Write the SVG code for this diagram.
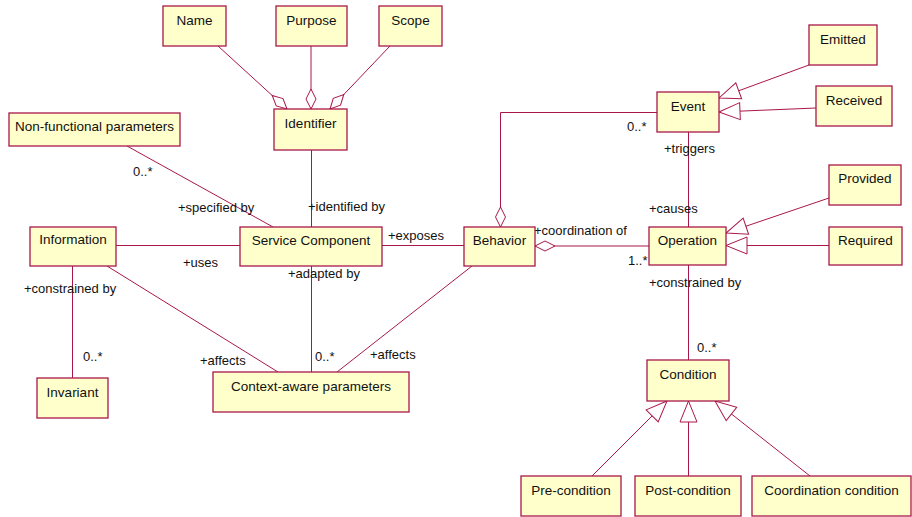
<svg xmlns="http://www.w3.org/2000/svg" width="912" height="517" viewBox="0 0 912 517">
  <style>
    .box { fill: #ffffcc; stroke: #a8174a; stroke-width: 1.3; }
    .name { font-family: "Liberation Sans", Arial, sans-serif; font-size: 13.5px; fill: #111; text-anchor: middle; }
    .lbl { font-family: "Liberation Sans", Arial, sans-serif; font-size: 13px; fill: #111; }
    .edge { fill: none; stroke: #a8174a; stroke-width: 1; }
    .gen { marker-end: url(#triangle); }
    .agg { marker-end: url(#diamond); }
  </style>
  <defs>
    <!-- hollow triangle for generalization -->
    <marker id="triangle" markerUnits="userSpaceOnUse" markerWidth="26" markerHeight="22" refX="22" refY="9.5" orient="auto" overflow="visible">
      <path d="M22,9.5 L1,1 L1,18 Z" fill="#fff" stroke="#a8174a" stroke-width="1"/>
    </marker>
    <!-- hollow diamond for aggregation -->
    <marker id="diamond" markerUnits="userSpaceOnUse" markerWidth="24" markerHeight="14" refX="21" refY="6" orient="auto" overflow="visible">
      <path d="M1,6 L11,1 L21,6 L11,11 Z" fill="#fff" stroke="#a8174a" stroke-width="1"/>
    </marker>
  </defs>

  <rect width="912" height="517" fill="#fff"/>

  <g id="connectors">
    <line class="edge agg" x1="218" y1="46" x2="287" y2="109"/>
    <line class="edge agg" x1="311" y1="46" x2="311" y2="109"/>
    <line class="edge agg" x1="390" y1="46" x2="330" y2="109"/>
    <line class="edge" x1="311.5" y1="150" x2="311.5" y2="227"/>
    <line class="edge" x1="127" y1="146" x2="273" y2="227"/>
    <line class="edge" x1="116" y1="245.5" x2="240" y2="245.5"/>
    <line class="edge" x1="72.5" y1="266" x2="72.5" y2="378"/>
    <line class="edge" x1="107" y1="266" x2="278" y2="372"/>
    <line class="edge" x1="311.5" y1="266" x2="311.5" y2="372"/>
    <line class="edge" x1="472" y1="266" x2="337" y2="372"/>
    <line class="edge" x1="382" y1="245.5" x2="464" y2="245.5"/>
    <path class="edge agg" d="M657,112.5 H500.5 V227"/>
    <line class="edge agg" x1="649" y1="246" x2="535" y2="246"/>
    <line class="edge" x1="688.5" y1="132" x2="688.5" y2="227"/>
    <line class="edge" x1="688.5" y1="265" x2="688.5" y2="360"/>
    <line class="edge gen" x1="809" y1="65" x2="719" y2="98"/>
    <line class="edge gen" x1="816" y1="108" x2="719" y2="112"/>
    <line class="edge gen" x1="829" y1="198" x2="726" y2="233"/>
    <line class="edge gen" x1="829" y1="245.5" x2="726" y2="245.5"/>
    <line class="edge gen" x1="592" y1="476" x2="667" y2="401"/>
    <line class="edge gen" x1="688.5" y1="476" x2="688.5" y2="401"/>
    <line class="edge gen" x1="810" y1="476" x2="715" y2="401"/>

    <!-- role names and multiplicities -->
    <text class="lbl" x="133" y="176">0..*</text>
    <text class="lbl" x="178" y="212">+specified by</text>
    <text class="lbl" x="308" y="211">+identified by</text>
    <text class="lbl" x="183" y="267">+uses</text>
    <text class="lbl" x="24" y="293">+constrained by</text>
    <text class="lbl" x="288" y="278">+adapted by</text>
    <text class="lbl" x="83" y="361">0..*</text>
    <text class="lbl" x="200" y="365">+affects</text>
    <text class="lbl" x="315" y="361">0..*</text>
    <text class="lbl" x="370" y="359">+affects</text>
    <text class="lbl" x="388" y="240">+exposes</text>
    <text class="lbl" x="534" y="235">+coordination of</text>
    <text class="lbl" x="628" y="265">1..*</text>
    <text class="lbl" x="627" y="131">0..*</text>
    <text class="lbl" x="664" y="153">+triggers</text>
    <text class="lbl" x="649" y="213">+causes</text>
    <text class="lbl" x="649" y="287">+constrained by</text>
    <text class="lbl" x="697" y="352">0..*</text>
  </g>

  <g id="name"><rect class="box" x="163" y="6" width="63" height="40"/><text class="name" x="194.5" y="25">Name</text></g>
  <g id="purpose"><rect class="box" x="276" y="6" width="71" height="40"/><text class="name" x="311.5" y="25">Purpose</text></g>
  <g id="scope"><rect class="box" x="379" y="6" width="63" height="40"/><text class="name" x="410.5" y="25">Scope</text></g>
  <g id="identifier"><rect class="box" x="274" y="109" width="73" height="41"/><text class="name" x="310.5" y="128">Identifier</text></g>
  <g id="non-functional"><rect class="box" x="9" y="113" width="171" height="33"/><text class="name" x="94.5" y="131">Non-functional parameters</text></g>
  <g id="information"><rect class="box" x="30" y="227" width="86" height="39"/><text class="name" x="73" y="244">Information</text></g>
  <g id="service-component"><rect class="box" x="240" y="227" width="142" height="39"/><text class="name" x="311" y="245">Service Component</text></g>
  <g id="behavior"><rect class="box" x="464" y="227" width="71" height="39"/><text class="name" x="499.5" y="245">Behavior</text></g>
  <g id="operation"><rect class="box" x="649" y="227" width="77" height="38"/><text class="name" x="687.5" y="245">Operation</text></g>
  <g id="event"><rect class="box" x="657" y="92" width="62" height="40"/><text class="name" x="688" y="111">Event</text></g>
  <g id="emitted"><rect class="box" x="809" y="25" width="68" height="40"/><text class="name" x="843" y="44">Emitted</text></g>
  <g id="received"><rect class="box" x="816" y="86" width="76" height="40"/><text class="name" x="854" y="105">Received</text></g>
  <g id="provided"><rect class="box" x="829" y="165" width="72" height="40"/><text class="name" x="865" y="183">Provided</text></g>
  <g id="required"><rect class="box" x="829" y="227" width="73" height="38"/><text class="name" x="865.5" y="245">Required</text></g>
  <g id="condition"><rect class="box" x="647" y="360" width="82" height="41"/><text class="name" x="688" y="379">Condition</text></g>
  <g id="invariant"><rect class="box" x="37" y="378" width="71" height="40"/><text class="name" x="72.5" y="397">Invariant</text></g>
  <g id="context-aware"><rect class="box" x="213" y="372" width="196" height="40"/><text class="name" x="311" y="391">Context-aware parameters</text></g>
  <g id="pre-condition"><rect class="box" x="521" y="476" width="100" height="40"/><text class="name" x="571" y="495">Pre-condition</text></g>
  <g id="post-condition"><rect class="box" x="635" y="476" width="106" height="40"/><text class="name" x="688" y="495">Post-condition</text></g>
  <g id="coordination-condition"><rect class="box" x="752" y="476" width="159" height="40"/><text class="name" x="831.5" y="495">Coordination condition</text></g>
</svg>
